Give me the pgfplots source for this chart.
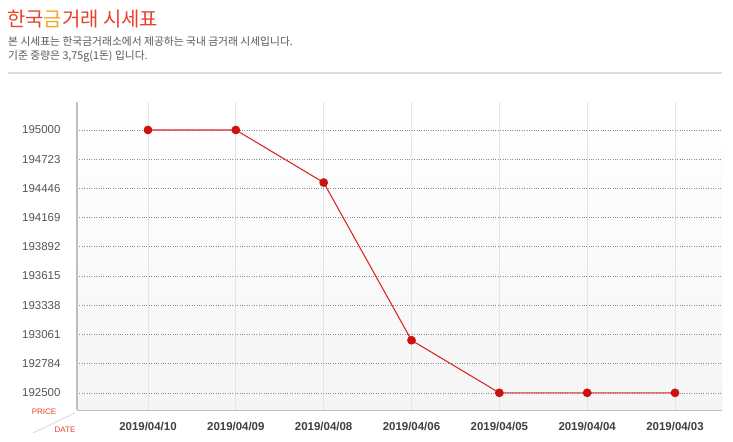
\documentclass[border=0pt]{standalone}
\usepackage{pgfplots}
\pgfplotsset{compat=1.18}
\usepackage{fontspec}
\setmainfont{Liberation Sans}
\newfontfamily\kr{Noto Sans CJK KR}
\definecolor{goldred}{HTML}{E8412C}
\definecolor{goldorange}{HTML}{F5A623}
\definecolor{txtgray}{HTML}{555555}
\definecolor{linered}{HTML}{D82B2B}
\definecolor{markred}{HTML}{CC1111}
\begin{document}
\begin{tikzpicture}
\path[use as bounding box, fill=white] (0bp,0bp) rectangle (733bp,442bp);
% title block
\node[anchor=base west, inner sep=0, font=\kr\fontsize{20}{24}\selectfont] at (7bp,415.5bp)
  {\textcolor{goldred}{한국}\textcolor{goldorange}{금}\textcolor{goldred}{거래 시세표}};
\node[anchor=base west, inner sep=0, text=txtgray, font=\kr\fontsize{10.8}{13}\selectfont] at (8bp,396bp)
  {본 시세표는 한국금거래소에서 제공하는 국내 금거래 시세입니다.};
\node[anchor=base west, inner sep=0, text=txtgray, font=\kr\fontsize{10.8}{13}\selectfont] at (8bp,382bp)
  {기준 중량은 3,75g(1돈) 입니다.};
\draw[black!13, line width=1.5bp] (8bp,369bp) -- (722bp,369bp);
% corner labels
\draw[black!15, line width=0.8bp] (33bp,9bp) -- (75bp,29bp);
\node[text=goldred, font=\fontsize{8}{9}\selectfont] at (44bp,30bp) {PRICE};
\node[text=goldred, font=\fontsize{8}{9}\selectfont] at (65bp,12bp) {DATE};

\begin{axis}[
  at={(77bp,31.5bp)}, anchor=south west,
  scale only axis, width=645bp, height=308.5bp,
  xmin=-0.808, xmax=6.535, ymin=192332, ymax=195266,
  axis x line*=bottom, axis y line*=left,
  axis line style={draw=black!25, line width=1.5bp, -},
  xtick={0,1,2,3,4,5,6},
  xticklabels={2019/04/10,2019/04/09,2019/04/08,2019/04/06,2019/04/05,2019/04/04,2019/04/03},
  ytick={192500,192777.78,193055.56,193333.33,193611.11,193888.89,194166.67,194444.44,194722.22,195000},
  yticklabels={192500,192784,193061,193338,193615,193892,194169,194446,194723,195000},
  scaled y ticks=false,
  major tick length=0,
  xmajorgrids, ymajorgrids,
  x grid style={black!10, line width=0.8bp},
  y grid style={black!45, dotted, line width=0.6bp},
  /pgf/number format/assume math mode=true,
  yticklabel style={font=\fontsize{11.5}{13}\selectfont, text=txtgray, xshift=-13bp},
  xticklabel style={font=\bfseries\fontsize{11.5}{13}\selectfont, text=black!75, yshift=-8bp},
  axis background/.style={top color=white, bottom color=black!4},
  clip=false,
]
\addplot[linered, line width=1.1bp, mark=*, mark size=3.8bp,
  mark options={fill=markred, draw=markred}] coordinates {
  (0,195000) (1,195000) (2,194500) (3,193000) (4,192500) (5,192500) (6,192500)
};
\end{axis}
\end{tikzpicture}
\end{document}
